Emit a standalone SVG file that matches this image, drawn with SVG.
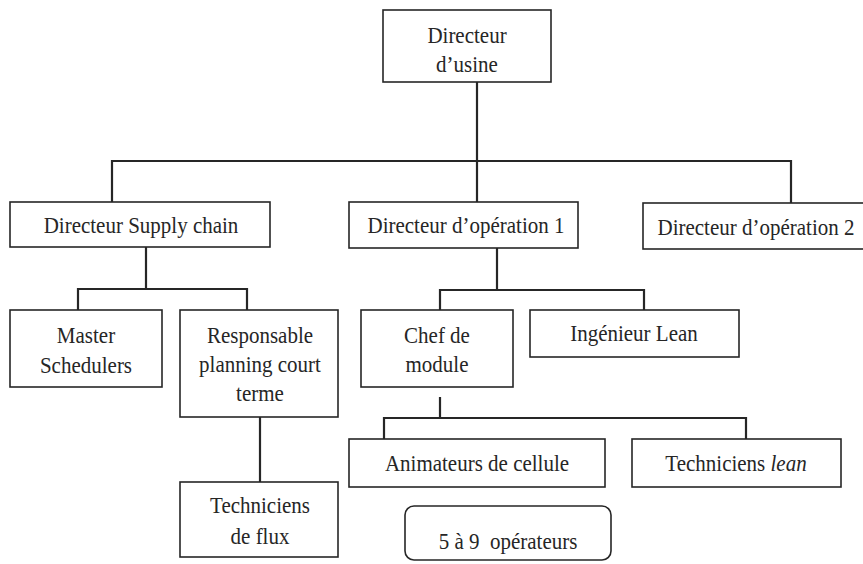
<svg xmlns="http://www.w3.org/2000/svg" width="863" height="564" viewBox="0 0 863 564">
<style>
.box{fill:#fff;stroke:#262626;stroke-width:1.6}
.conn{fill:none;stroke:#262626;stroke-width:2.2}
text{font-family:'Liberation Serif','Times New Roman',serif;font-size:21px;fill:#262626;text-anchor:middle}
</style>
<rect width="863" height="564" fill="#fff"/>
<g id="connectors">
<path class="conn" d="M477,82 V202"/>
<path class="conn" d="M112,202 V161 H791 V203"/>
<path class="conn" d="M146,247 V289"/>
<path class="conn" d="M78,310 V289 H247 V310"/>
<path class="conn" d="M260,417 V482"/>
<path class="conn" d="M497,248 V290"/>
<path class="conn" d="M440,310 V290 H644 V310"/>
<path class="conn" d="M440,397 V418"/>
<path class="conn" d="M384,439 V418 H746 V439"/>
</g>
<g id="directeur-usine"><rect class="box" x="383" y="10" width="168" height="72"/><text transform="translate(467,43) scale(1,1.1)">Directeur</text><text transform="translate(467,72) scale(1,1.1)">d’usine</text></g>
<g id="supply"><rect class="box" x="10" y="202" width="260" height="45"/><text transform="translate(141,233) scale(1,1.1)">Directeur Supply chain</text></g>
<g id="dirop1"><rect class="box" x="349" y="202" width="229" height="46"/><text transform="translate(466,233) scale(1,1.1)">Directeur d’opération 1</text></g>
<g id="dirop2"><rect class="box" x="643" y="203" width="232" height="46"/><text transform="translate(756,235) scale(1,1.1)">Directeur d’opération 2</text></g>
<g id="master"><rect class="box" x="10" y="310" width="152" height="77"/><text transform="translate(86,343) scale(1,1.1)">Master</text><text transform="translate(86,373) scale(1,1.1)">Schedulers</text></g>
<g id="responsable"><rect class="box" x="180" y="310" width="158" height="107"/><text transform="translate(260,343) scale(1,1.1)">Responsable</text><text transform="translate(260,372) scale(1,1.1)">planning court</text><text transform="translate(260,401) scale(1,1.1)">terme</text></g>
<g id="flux"><rect class="box" x="180" y="482" width="158" height="75"/><text transform="translate(260,513) scale(1,1.1)">Techniciens</text><text transform="translate(260,544) scale(1,1.1)">de flux</text></g>
<g id="chef"><rect class="box" x="361" y="310" width="152" height="77"/><text transform="translate(437,343) scale(1,1.1)">Chef de</text><text transform="translate(437,372) scale(1,1.1)">module</text></g>
<g id="ingenieur"><rect class="box" x="530" y="310" width="209" height="47"/><text transform="translate(634,341) scale(1,1.1)">Ingénieur Lean</text></g>
<g id="animateurs"><rect class="box" x="349" y="439" width="256" height="48"/><text transform="translate(477,471) scale(1,1.1)">Animateurs de cellule</text></g>
<g id="techlean"><rect class="box" x="632" y="439" width="209" height="48"/><text transform="translate(736,471) scale(1,1.1)">Techniciens <tspan font-style="italic">lean</tspan></text></g>
<g id="operateurs"><rect class="box" x="405" y="506" width="206" height="54" rx="9"/><text transform="translate(508,549) scale(1,1.1)">5 à 9&#160; opérateurs</text></g>
</svg>
